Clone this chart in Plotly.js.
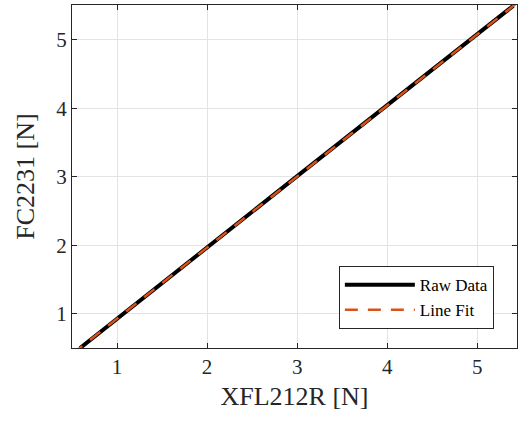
<!DOCTYPE html>
<html>
<head>
<meta charset="utf-8">
<script src="https://cdn.plot.ly/plotly-3.0.1.min.js"></script>
<style>html,body{margin:0;padding:0;background:#fff;}#chart{width:520px;height:423px;}</style>
</head>
<body>
<div id="chart"></div>
<script>
const rawX = [0.59, 1.00, 1.50, 2.00, 2.50, 3.00, 3.50, 4.00, 4.50, 5.00, 5.40];
const rawY = [0.50, 0.93, 1.45, 1.97, 2.49, 3.01, 3.53, 4.05, 4.57, 5.09, 5.50];
// Linear fit endpoints
const fitX = [0.50, 5.45];
const fitY = [0.41, 5.55];
const xTicks = [1, 2, 3, 4, 5];
const yTicks = [1, 2, 3, 4, 5];
const seriesNames = ["Raw Data", "Line Fit"];

const serif = "Liberation Serif, DejaVu Serif, serif";

const traces = [
  {x: rawX, y: rawY, mode: "lines", name: seriesNames[0],
   line: {color: "#000000", width: 4}},
  {x: fitX, y: fitY, mode: "lines", name: seriesNames[1],
   line: {color: "#D95319", width: 2.5, dash: "13px,10px"}}
];

const axisCommon = {
  showline: true, linecolor: "#262626", linewidth: 1, mirror: "ticks",
  ticks: "inside", ticklen: 5, tickcolor: "#262626", tickwidth: 1,
  showgrid: true, gridcolor: "#e3e3e3", gridwidth: 1,
  zeroline: false, automargin: false,
  tickfont: {family: serif, size: 21, color: "#262626"}
};

const layout = {
  width: 520, height: 423,
  margin: {l: 72, r: 3, t: 5, b: 75},
  paper_bgcolor: "#fff", plot_bgcolor: "#fff",
  showlegend: true,
  xaxis: Object.assign({}, axisCommon, {
    range: [0.5, 5.44], tickvals: xTicks, ticktext: xTicks.map(String),
    title: {text: "XFL212R [N]", font: {family: serif, size: 26, color: "#262626"}, standoff: 8}
  }),
  yaxis: Object.assign({}, axisCommon, {
    range: [0.5, 5.51], tickvals: yTicks, ticktext: yTicks.map(String),
    title: {text: "FC2231 [N]", font: {family: serif, size: 26, color: "#262626"}, standoff: 14}
  }),
  legend: {
    x: 0.948, y: 0.055, xanchor: "right", yanchor: "bottom",
    bgcolor: "#fff", bordercolor: "#262626", borderwidth: 1,
    font: {family: serif, size: 17, color: "#000"},
    itemwidth: 70, tracegroupgap: 0
  }
};

Plotly.newPlot("chart", traces, layout, {displayModeBar: false, staticPlot: true});
</script>
</body>
</html>
